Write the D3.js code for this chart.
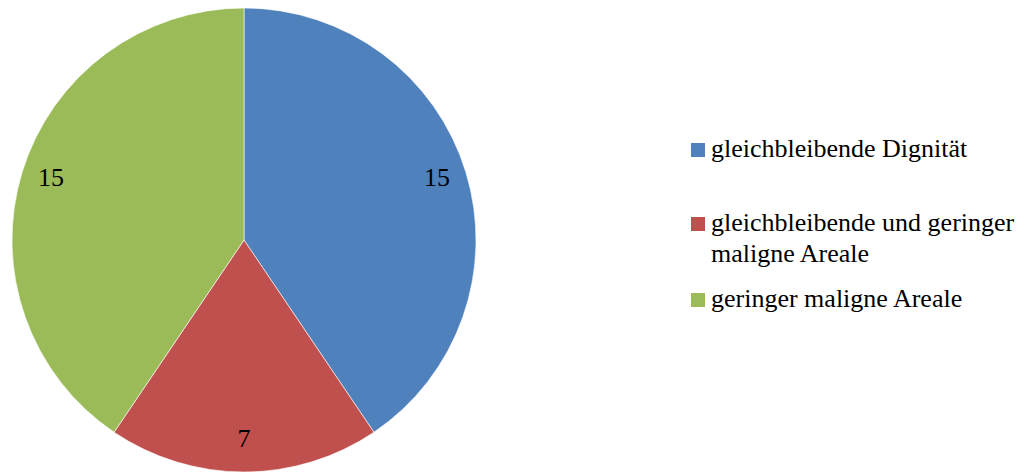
<!DOCTYPE html>
<html>
<head>
<meta charset="utf-8">
<script src="https://cdn.jsdelivr.net/npm/d3@7"></script>
<style>
  html, body { margin: 0; padding: 0; background: #fff; }
  svg { display: block; }
</style>
</head>
<body>
<svg id="chart" width="1032" height="473"></svg>
<script>
// Category names (legend lines) and slice values
const categories = [
  ["gleichbleibende Dignität"],
  ["gleichbleibende und geringer", "maligne Areale"],
  ["geringer maligne Areale"]
];
const values = [15, 7, 15];
const colors = ["#4F81BD", "#C0504D", "#9BBB59"];

const FONT = '"Liberation Serif"';

const svg = d3.select("#chart");
const cx = 244, cy = 240, radius = 232;

const pie = d3.pie().sort(null).value(d => d)(values);
const arc = d3.arc().innerRadius(0).outerRadius(radius);
const labelArc = d3.arc().innerRadius(radius * 0.87).outerRadius(radius * 0.87);

const g = svg.append("g").attr("transform", `translate(${cx},${cy})`);

g.selectAll("path.slice")
  .data(pie)
  .join("path")
  .attr("class", "slice")
  .attr("d", arc)
  .attr("fill", (d, i) => colors[i])
  .attr("stroke", "#ffffff")
  .attr("stroke-width", 0.6);

g.selectAll("text.val")
  .data(pie)
  .join("text")
  .attr("class", "val")
  .attr("transform", d => `translate(${labelArc.centroid(d)})`)
  .attr("text-anchor", "middle")
  .attr("dy", "0.2em")
  .style("font-family", FONT)
  .style("font-size", "26px")
  .style("fill", "#000")
  .text(d => d.data);

// Legend
const legend = svg.append("g").attr("transform", "translate(691,0)");
const rowTop = [143, 217, 293];
const lineH = 31;

const items = legend.selectAll("g.item")
  .data(categories)
  .join("g")
  .attr("class", "item")
  .attr("transform", (d, i) => `translate(0,${rowTop[i]})`);

items.append("rect")
  .attr("width", 14)
  .attr("height", 14)
  .attr("fill", (d, i) => colors[i]);

items.each(function (lines) {
  const t = d3.select(this).append("text")
    .attr("x", 20)
    .attr("y", 14)
    .style("font-family", FONT)
    .style("font-size", "26px")
    .style("fill", "#000");
  lines.forEach((ln, j) => {
    t.append("tspan").attr("x", 20).attr("dy", j === 0 ? 0 : lineH).text(ln);
  });
});
</script>
</body>
</html>
